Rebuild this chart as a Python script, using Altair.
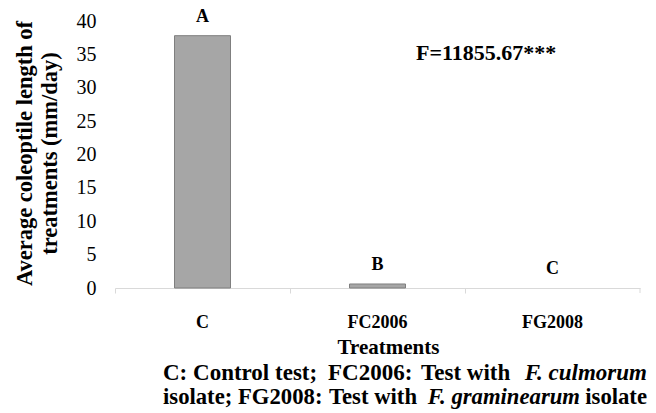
import altair as alt
import pandas as pd

# ---- data ----
treatments = ["C", "FC2006", "FG2008"]
values = [37.8, 0.6, 0.0]
letters = ["A", "B", "C"]
y_ticks = [0, 5, 10, 15, 20, 25, 30, 35, 40]
stat_text = ["F=11855.67***"]
y_title = ["Average coleoptile length of", "treatments (mm/day)"]
x_title = "Treatments"
caption_line1 = ["C: Control test;", "FC2006:", "Test with", "F. culmorum"]
caption_line2 = ["isolate;", "FG2008:", "Test with", "F. graminearum", "isolate"]

FONT = "Liberation Serif"
W, H = 525, 267

df = pd.DataFrame({"treatment": treatments, "value": values, "letter": letters})
base = alt.Chart(df)

x_enc = alt.X(
    "treatment:N",
    sort=treatments,
    scale=alt.Scale(paddingInner=0, paddingOuter=0),
    axis=alt.Axis(
        title=x_title,
        labelAngle=0,
        bandPosition=0,
        domainColor="#d9d9d9",
        tickColor="#d9d9d9",
        tickSize=5,
        labelFont=FONT,
        labelFontSize=18,
        labelFontWeight="bold",
        labelColor="black",
        labelBaseline="alphabetic",
        labelPadding=34,
        titleFont=FONT,
        titleFontSize=21,
        titleFontWeight="bold",
        titleColor="black",
        titleX=273,
        titleY=65,
        titleAlign="center",
        titleBaseline="alphabetic",
    ),
)
y_enc = alt.Y(
    "value:Q",
    scale=alt.Scale(domain=[0, 40]),
    axis=alt.Axis(
        values=y_ticks,
        labelOverlap=False,
        domain=False,
        ticks=False,
        grid=False,
        labelPadding=19,
        labelFont=FONT,
        labelFontSize=20,
        labelColor="black",
        title=y_title,
        titleFont=FONT,
        titleFontSize=22.5,
        titleFontWeight="bold",
        titleColor="black",
        titleAngle=270,
        titleX=-84,
        titleY=132,
        titleAlign="center",
        titleBaseline="alphabetic",
        titleLineHeight=25,
    ),
)

bars = base.mark_bar(
    color="#a6a6a6", stroke="#7f7f7f", strokeWidth=1,
    width=alt.RelativeBandSize(0.32),
).encode(x=x_enc, y=y_enc).transform_filter("datum.value > 0")

letter_marks = base.mark_text(
    dy=-14, baseline="alphabetic", font=FONT, fontSize=18, fontWeight="bold", color="black"
).encode(x=x_enc, y=y_enc, text="letter:N")

end_tick = alt.Chart(pd.DataFrame({"v": [0]})).mark_rule(color="#d9d9d9").encode(
    x=alt.value(W), y=alt.value(H), y2=alt.value(H + 5)
)


def txt(t, x, y, align="left", style="normal", size=22.5):
    return alt.Chart(pd.DataFrame({"t": [t]})).mark_text(
        align=align, baseline="alphabetic", font=FONT, fontSize=size,
        fontWeight="bold", fontStyle=style, color="black",
    ).encode(x=alt.value(x), y=alt.value(y), text="t:N")


stat = txt(stat_text[0], 301, 39, size=22)

# justified caption: segments spread across the line
l1y, l2y = 359, 383
cap = [
    txt(caption_line1[0], 48, l1y, size=23),
    txt(caption_line1[1], 213, l1y, size=23),
    txt(caption_line1[2], 306, l1y, size=23),
    txt(caption_line1[3], 532, l1y, align="right", style="italic", size=23),
    txt(caption_line2[0], 48, l2y, size=22.7),
    txt(caption_line2[1], 123, l2y, size=22.7),
    txt(caption_line2[2], 214, l2y, size=22.7),
    txt(caption_line2[3], 465, l2y, align="right", style="italic", size=22.7),
    txt(caption_line2[4], 532, l2y, align="right", size=22.7),
]

chart = alt.layer(bars, letter_marks, end_tick, stat, *cap).properties(
    width=W, height=H,
    padding={"left": 107, "top": 13, "right": 8, "bottom": 122},
    autosize=alt.AutoSizeParams(type="none"),
).configure_view(stroke=None)

chart.save("out.html", embed_options={"renderer": "svg", "actions": False})
